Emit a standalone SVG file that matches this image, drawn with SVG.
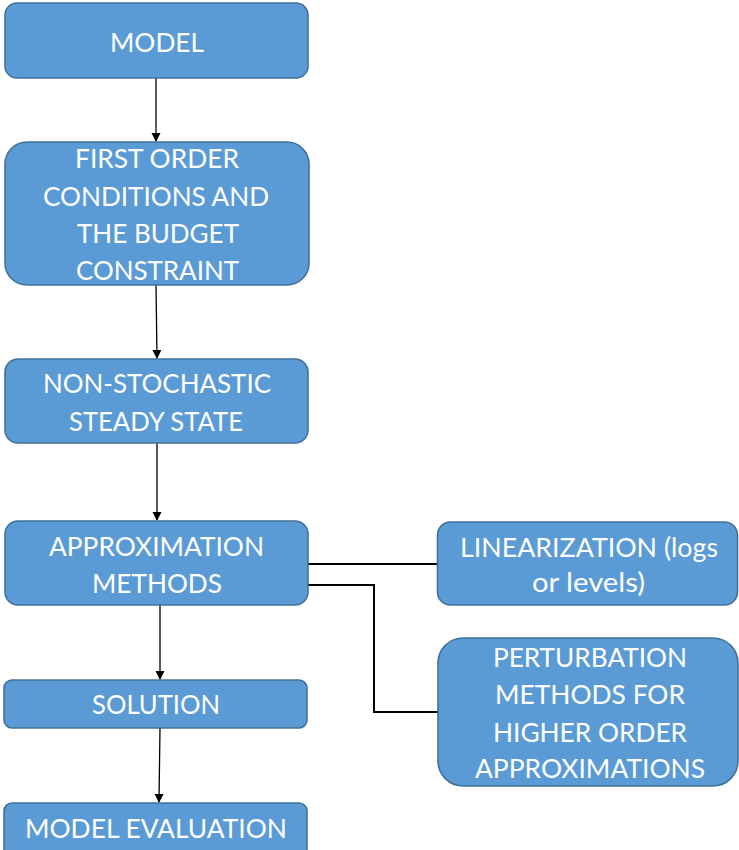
<svg xmlns="http://www.w3.org/2000/svg" width="739" height="850" viewBox="0 0 739 850">
<style>
.box{fill:#5B9BD5;stroke:#41719C;stroke-width:1.6}
.t{font-family:Lato,"Open Sans","Liberation Sans",sans-serif;font-size:26.5px;fill:#fff;text-anchor:middle}
.c{fill:none;stroke:#000;stroke-width:1.3}
.c2{fill:none;stroke:#000;stroke-width:2}
</style>
<defs>
<marker id="ah" markerWidth="10" markerHeight="10" refX="8" refY="5" orient="auto" markerUnits="userSpaceOnUse">
<path d="M0,0.5 L9,5 L0,9.5 Z" fill="#000"/>
</marker>
</defs>
<rect width="739" height="850" fill="#fff"/>
<g id="connectors">
<line class="c" x1="156" y1="78" x2="156" y2="141" marker-end="url(#ah)"/>
<line class="c" x1="156" y1="285" x2="157" y2="358" marker-end="url(#ah)"/>
<line class="c" x1="157" y1="443" x2="157" y2="520" marker-end="url(#ah)"/>
<line class="c" x1="160" y1="605" x2="160" y2="679" marker-end="url(#ah)"/>
<line class="c" x1="160" y1="728" x2="159" y2="802" marker-end="url(#ah)"/>
<polyline class="c2" points="308,564 437,564"/>
<polyline class="c2" points="308,585 374,585 374,712 438,712"/>
</g>
<g id="model">
<rect class="box" x="5" y="3" width="303" height="75" rx="12"/>
<text class="t" x="157" y="52" textLength="94" lengthAdjust="spacingAndGlyphs">MODEL</text>
</g>
<g id="foc">
<rect class="box" x="5" y="142" width="304" height="143" rx="22"/>
<text class="t" x="157" y="168" textLength="164" lengthAdjust="spacingAndGlyphs">FIRST ORDER</text>
<text class="t" x="156" y="206" textLength="226" lengthAdjust="spacingAndGlyphs">CONDITIONS AND</text>
<text class="t" x="158" y="243" textLength="162" lengthAdjust="spacingAndGlyphs">THE BUDGET</text>
<text class="t" x="157.5" y="280" textLength="163" lengthAdjust="spacingAndGlyphs">CONSTRAINT</text>
</g>
<g id="steady">
<rect class="box" x="5" y="359" width="303" height="84" rx="13"/>
<text class="t" x="157" y="393" textLength="228" lengthAdjust="spacingAndGlyphs">NON-STOCHASTIC</text>
<text class="t" x="156" y="431" textLength="174" lengthAdjust="spacingAndGlyphs">STEADY STATE</text>
</g>
<g id="approx">
<rect class="box" x="5" y="521" width="303" height="84" rx="13"/>
<text class="t" x="156.5" y="556" textLength="215" lengthAdjust="spacingAndGlyphs">APPROXIMATION</text>
<text class="t" x="157" y="593" textLength="130" lengthAdjust="spacingAndGlyphs">METHODS</text>
</g>
<g id="solution">
<rect class="box" x="4" y="680" width="303" height="48" rx="8"/>
<text class="t" x="156" y="714" textLength="128" lengthAdjust="spacingAndGlyphs">SOLUTION</text>
</g>
<g id="evaluation">
<rect class="box" x="4" y="803" width="303" height="60" rx="8"/>
<text class="t" x="156" y="838" textLength="262" lengthAdjust="spacingAndGlyphs">MODEL EVALUATION</text>
</g>
<g id="linearization">
<rect class="box" x="437.5" y="522" width="300" height="83" rx="13"/>
<text class="t" x="589" y="557" textLength="258" lengthAdjust="spacingAndGlyphs">LINEARIZATION (logs</text>
<text class="t" x="588.5" y="592" textLength="113" lengthAdjust="spacingAndGlyphs">or levels)</text>
</g>
<g id="perturbation">
<rect class="box" x="438" y="638" width="300" height="148" rx="25"/>
<text class="t" x="590" y="667" textLength="194" lengthAdjust="spacingAndGlyphs">PERTURBATION</text>
<text class="t" x="590" y="704" textLength="190" lengthAdjust="spacingAndGlyphs">METHODS FOR</text>
<text class="t" x="590" y="742" textLength="194" lengthAdjust="spacingAndGlyphs">HIGHER ORDER</text>
<text class="t" x="590" y="778" textLength="230" lengthAdjust="spacingAndGlyphs">APPROXIMATIONS</text>
</g>
</svg>
